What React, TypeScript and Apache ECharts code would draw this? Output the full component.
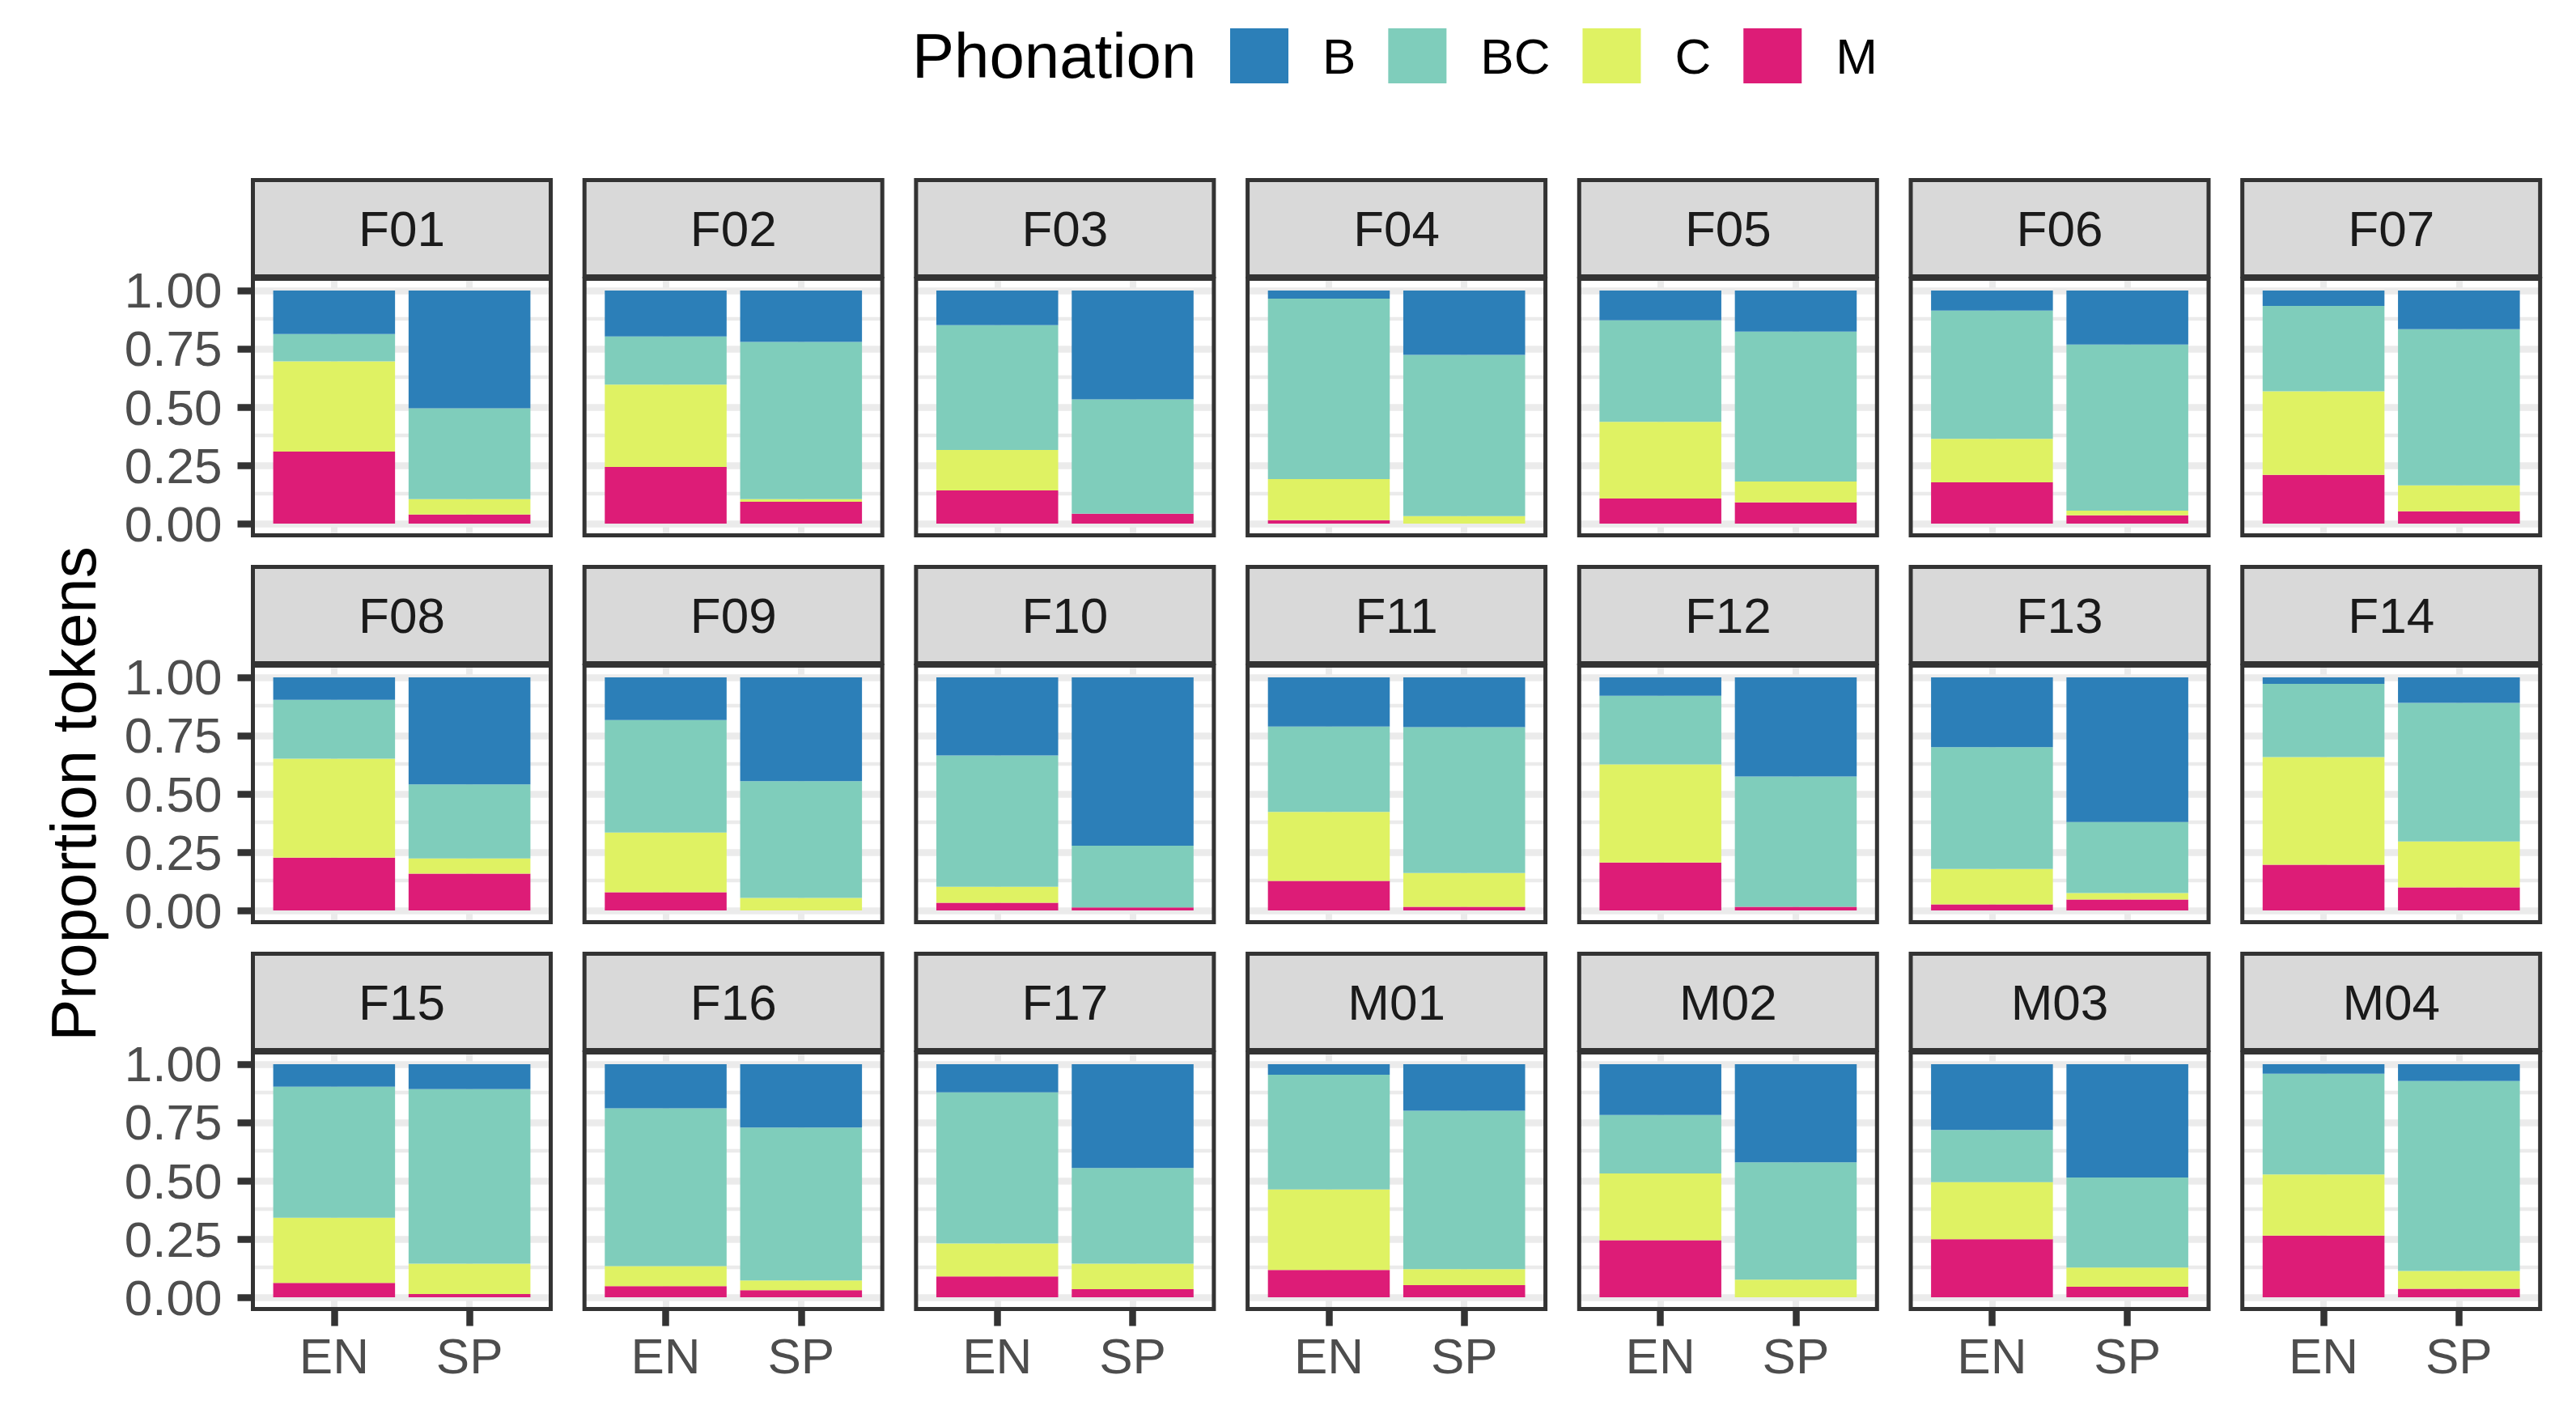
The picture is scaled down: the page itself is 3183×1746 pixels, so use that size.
import { useEffect, useRef } from 'react';
import * as echarts from 'echarts';

const SPEAKERS = [
  'F01', 'F02', 'F03', 'F04', 'F05', 'F06', 'F07',
  'F08', 'F09', 'F10', 'F11', 'F12', 'F13', 'F14',
  'F15', 'F16', 'F17', 'M01', 'M02', 'M03', 'M04',
];
const LANGS = ['EN', 'SP'];
const PHONATIONS = ['B', 'BC', 'C', 'M'];
const COLORS: Record<string, string> = {
  B: '#2C7FB8',
  BC: '#7FCDBB',
  C: '#DFF263',
  M: '#DD1C77',
};

// proportions per speaker (same order as SPEAKERS)
const B_EN = [0.187, 0.197, 0.149, 0.035, 0.128, 0.086, 0.066, 0.097, 0.183, 0.335, 0.211, 0.079, 0.300, 0.028, 0.097, 0.189, 0.121, 0.045, 0.218, 0.282, 0.041];
const B_SP = [0.505, 0.221, 0.467, 0.276, 0.176, 0.232, 0.166, 0.459, 0.445, 0.722, 0.214, 0.425, 0.621, 0.110, 0.107, 0.272, 0.445, 0.200, 0.421, 0.486, 0.072];
const BC_EN = [0.117, 0.207, 0.535, 0.774, 0.435, 0.550, 0.366, 0.252, 0.483, 0.563, 0.366, 0.294, 0.522, 0.314, 0.562, 0.677, 0.648, 0.492, 0.251, 0.224, 0.432];
const BC_SP = [0.390, 0.674, 0.490, 0.692, 0.643, 0.712, 0.670, 0.318, 0.501, 0.265, 0.625, 0.559, 0.304, 0.594, 0.749, 0.656, 0.411, 0.679, 0.503, 0.386, 0.815];
const C_EN = [0.387, 0.353, 0.173, 0.176, 0.329, 0.187, 0.359, 0.424, 0.256, 0.069, 0.296, 0.421, 0.152, 0.462, 0.279, 0.086, 0.141, 0.346, 0.286, 0.245, 0.262];
const C_SP = [0.066, 0.011, 0.000, 0.032, 0.090, 0.020, 0.111, 0.065, 0.054, 0.000, 0.145, 0.000, 0.028, 0.197, 0.130, 0.041, 0.109, 0.069, 0.076, 0.083, 0.076];
const M_EN = [0.309, 0.243, 0.143, 0.015, 0.108, 0.177, 0.209, 0.227, 0.078, 0.033, 0.127, 0.206, 0.026, 0.196, 0.062, 0.048, 0.090, 0.117, 0.245, 0.249, 0.265];
const M_SP = [0.039, 0.094, 0.043, 0.000, 0.091, 0.036, 0.053, 0.158, 0.000, 0.013, 0.016, 0.016, 0.047, 0.099, 0.014, 0.031, 0.035, 0.052, 0.000, 0.045, 0.037];

const Y_TICKS = [0, 0.25, 0.5, 0.75, 1];
const Y_MINOR = [0.125, 0.375, 0.625, 0.875];

const VALUES: Record<string, number[][]> = {
  B: [B_EN, B_SP],
  BC: [BC_EN, BC_SP],
  C: [C_EN, C_SP],
  M: [M_EN, M_SP],
};

// layout (px)
const FONT = "'Liberation Sans', Arial, Helvetica, sans-serif";
const COLS = 7;
const LEFT0 = 312.5;
const PITCH_X = 409.7;
const PANEL_W = 368;
const TOP0 = 344.5;
const PITCH_Y = 478;
const PANEL_H = 317;
const STRIP_H = 119;
const BAR_W = (0.9 / 2.2) * PANEL_W;

function buildOption() {
  const grid: any[] = [];
  const xAxis: any[] = [];
  const yAxis: any[] = [];
  const series: any[] = [];
  const graphic: any[] = [];

  const gridLines = [
    ...Y_MINOR.map((v) => ({ yAxis: v, lineStyle: { width: 4.3, color: '#EBEBEB', type: 'solid' } })),
    ...Y_TICKS.map((v) => ({ yAxis: v, lineStyle: { width: 8.5, color: '#EBEBEB', type: 'solid' } })),
    ...[1, 2].map((v) => ({ xAxis: v, lineStyle: { width: 8, color: '#EBEBEB', type: 'solid' } })),
  ];

  SPEAKERS.forEach((spk, i) => {
    const col = i % COLS;
    const row = Math.floor(i / COLS);
    const left = LEFT0 + col * PITCH_X;
    const top = TOP0 + row * PITCH_Y;
    const isBottom = row === 2;
    const isLeft = col === 0;

    grid.push({
      left,
      top,
      width: PANEL_W,
      height: PANEL_H,
      show: true,
      backgroundColor: '#fff',
      borderWidth: 0,
      containLabel: false,
      outerBoundsMode: 'none',
    });

    xAxis.push({
      type: 'value',
      gridIndex: i,
      position: 'bottom',
      min: 0.4,
      max: 2.6,
      splitLine: { show: false },
      axisLine: { show: false, onZero: false },
      axisTick: {
        show: isBottom,
        customValues: [1, 2],
        length: 21,
        lineStyle: { color: '#333333', width: 8.5 },
      },
      axisLabel: {
        show: isBottom,
        customValues: [1, 2],
        formatter: (v: number) => LANGS[Math.round(v) - 1],
        margin: 27,
        fontSize: 62,
        color: '#4D4D4D',
        fontFamily: FONT,
      },
    });

    yAxis.push({
      type: 'value',
      gridIndex: i,
      position: 'left',
      min: -0.05,
      max: 1.05,
      splitLine: { show: false },
      axisLine: { show: false, onZero: false },
      axisTick: {
        show: isLeft,
        customValues: Y_TICKS,
        length: 19,
        lineStyle: { color: '#333333', width: 8.5 },
      },
      axisLabel: {
        show: isLeft,
        customValues: Y_TICKS,
        formatter: (v: number) => v.toFixed(2),
        margin: 38,
        fontSize: 62,
        color: '#4D4D4D',
        fontFamily: FONT,
      },
    });

    // bottom to top: M, C, BC, B. value column first so the stack runs on y
    ['M', 'C', 'BC', 'B'].forEach((p, k) => {
      const s: any = {
        type: 'bar',
        name: p,
        xAxisIndex: i,
        yAxisIndex: i,
        stack: 'panel' + i,
        barWidth: BAR_W,
        silent: true,
        encode: { x: 1, y: 0 },
        itemStyle: { color: COLORS[p] },
        data: LANGS.map((_, j) => [VALUES[p][j][i], j + 1]),
      };
      if (k === 0) {
        s.markLine = {
          silent: true,
          symbol: 'none',
          z: 1,
          animation: false,
          label: { show: false },
          lineStyle: { type: 'solid' },
          data: gridLines,
        };
      }
      series.push(s);
    });

    // strip
    graphic.push({
      type: 'rect',
      silent: true,
      z: 100,
      shape: { x: left, y: top - 3 - STRIP_H, width: PANEL_W, height: STRIP_H },
      style: { fill: '#D9D9D9', stroke: '#333333', lineWidth: 5 },
    });
    graphic.push({
      type: 'text',
      silent: true,
      z: 101,
      x: left + PANEL_W / 2,
      y: top - 3 - STRIP_H / 2,
      style: {
        text: spk,
        fontSize: 62,
        fontFamily: FONT,
        fill: '#1A1A1A',
        align: 'center',
        verticalAlign: 'middle',
      },
    });
    // panel border
    graphic.push({
      type: 'rect',
      silent: true,
      z: 100,
      shape: { x: left, y: top, width: PANEL_W, height: PANEL_H },
      style: { fill: 'none', stroke: '#333333', lineWidth: 5 },
    });
  });

  graphic.push({
    type: 'text',
    silent: true,
    x: 1127,
    y: 69,
    style: {
      text: 'Phonation',
      fontSize: 78,
      fontFamily: FONT,
      fill: '#000',
      align: 'left',
      verticalAlign: 'middle',
    },
  });
  graphic.push({
    type: 'text',
    silent: true,
    x: 91,
    y: 981,
    rotation: Math.PI / 2,
    style: {
      text: 'Proportion tokens',
      fontSize: 78,
      fontFamily: FONT,
      fill: '#000',
      align: 'center',
      verticalAlign: 'middle',
    },
  });

  return {
    animation: false,
    backgroundColor: '#fff',
    textStyle: { fontFamily: FONT },
    legend: {
      data: PHONATIONS,
      left: 1520,
      top: 35,
      padding: 0,
      itemWidth: 72,
      itemHeight: 68,
      itemGap: 40,
      icon: 'rect',
      selectedMode: false,
      textStyle: { fontSize: 62, color: '#000', fontFamily: FONT, padding: [0, 0, 0, 37] },
    },
    grid,
    xAxis,
    yAxis,
    series,
    graphic,
  };
}

export default function App() {
  const ref = useRef<HTMLDivElement>(null);

  useEffect(() => {
    if (!ref.current) return;
    const chart = echarts.init(ref.current, null, { renderer: 'svg' });
    chart.setOption(buildOption() as any);
    return () => chart.dispose();
  }, []);

  return (
    <div
      ref={ref}
      style={{ position: 'absolute', left: 0, top: 0, width: 3183, height: 1746 }}
    />
  );
}
